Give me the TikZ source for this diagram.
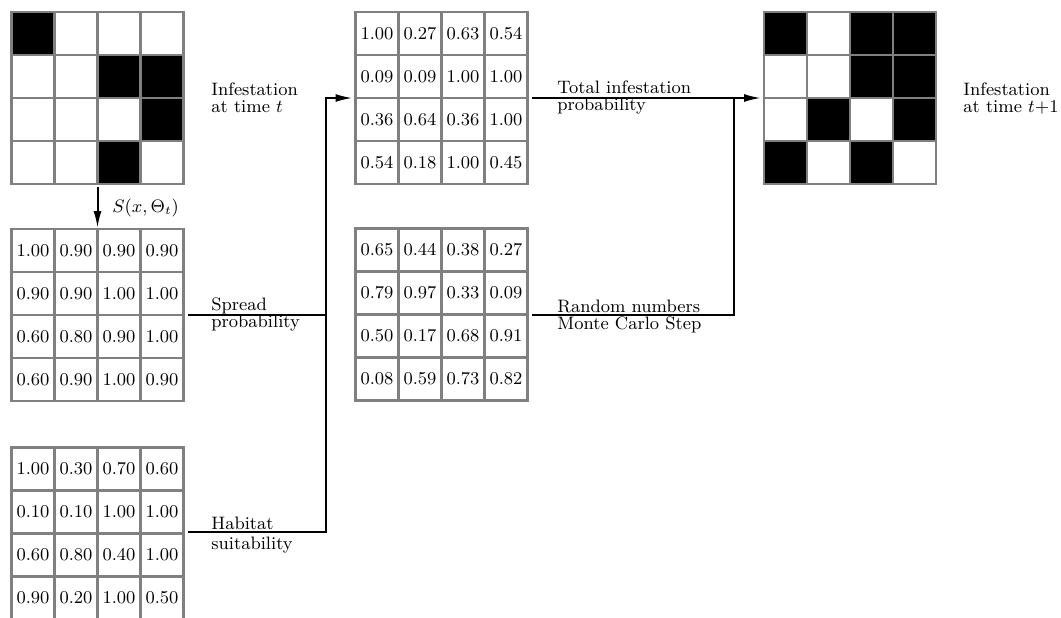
\documentclass[tikz,border=0pt]{standalone}
\usetikzlibrary{arrows.meta,calc}
\definecolor{gridgray}{RGB}{128,128,128}
\newcommand\cellgrid[1]{%
  \draw[cellline] (#1.north west) rectangle (#1.south east);
  \foreach \k in {1,2,3} {
    \draw[cellline] ($(#1.north west)+(\k*43,0)$) -- ($(#1.south west)+(\k*43,0)$);
    \draw[cellline] ($(#1.north west)+(0,\k*43)$) -- ($(#1.north east)+(0,\k*43)$);
  }}
\newcommand\cellvals[2]{%
  \foreach \row [count=\r] in {#2} {
    \foreach \v [count=\c] in \row {
      \node[num] (#1-\r-\c) at ($(#1.north west)+(\c*43-21.5,\r*43-21.5)$) {\v};
    }
  }}
\newcommand\blackcells[2]{%
  \foreach \r/\c in {#2} {
    \fill[black] ($(#1.north west)+(\c*43-43,\r*43-43)$) rectangle ++(43,43);
  }}
\begin{document}
\begin{tikzpicture}[x=0.5pt,y=-0.5pt,
  gridbox/.style={minimum size=86pt,inner sep=0pt,outer sep=0pt},
  cellline/.style={draw=gridgray,line width=1.2pt},
  num/.style={font=\small,inner sep=0pt},
  lbl/.style={font=\fontsize{9}{8.5}\selectfont,align=left,anchor=west,inner sep=0pt},
  conn/.style={line width=1pt,black},
  arr/.style={conn,-{Latex[length=8.5pt,width=4pt]}}]
\useasboundingbox (0,0) rectangle (1061,617);

% grid nodes
\node[gridbox] (g1) at (97.5,98) {};
\node[gridbox] (g2) at (97.5,315) {};
\node[gridbox] (g3) at (97.5,533.5) {};
\node[gridbox] (g4) at (441.5,98) {};
\node[gridbox] (g5) at (441.5,314.5) {};
\node[gridbox] (g6) at (850,98) {};

% black cells
\blackcells{g1}{1/1,2/3,2/4,3/4,4/3}
\blackcells{g6}{1/1,1/3,1/4,2/3,2/4,3/2,3/4,4/1,4/3}

% grid lines
\cellgrid{g1}
\cellgrid{g2}
\cellgrid{g3}
\cellgrid{g4}
\cellgrid{g5}
\cellgrid{g6}

% values
\cellvals{g2}{{1.00,0.90,0.90,0.90},{0.90,0.90,1.00,1.00},{0.60,0.80,0.90,1.00},{0.60,0.90,1.00,0.90}}
\cellvals{g3}{{1.00,0.30,0.70,0.60},{0.10,0.10,1.00,1.00},{0.60,0.80,0.40,1.00},{0.90,0.20,1.00,0.50}}
\cellvals{g4}{{1.00,0.27,0.63,0.54},{0.09,0.09,1.00,1.00},{0.36,0.64,0.36,1.00},{0.54,0.18,1.00,0.45}}
\cellvals{g5}{{0.65,0.44,0.38,0.27},{0.79,0.97,0.33,0.09},{0.50,0.17,0.68,0.91},{0.08,0.59,0.73,0.82}}

% labels
\node[lbl] (l1) at (211,98) {Infestation\\at time $t$};
\node[lbl] (l2) at (211,314) {Spread\\probability};
\node[lbl,font=\fontsize{9}{10}\selectfont] (l3) at (211,535) {Habitat\\suitability};
\node[lbl] (l4) at (557,97.5) {Total infestation\\probability};
\node[lbl] (l5) at (557,316) {Random numbers\\Monte Carlo Step};
\node[lbl] (l6) at (963,98) {Infestation\\at time $t{+}1$};
\node[lbl,font=\small] (ls) at (112,208) {$S(x,\Theta_t)$};

% junctions
\coordinate (jA) at (326,98);
\coordinate (jB) at (734,98);

% connectors
\draw[arr,shorten <=1.5pt,shorten >=0.5pt] (g1.south) -- (g2.north);
\draw[conn,shorten <=2pt] (g2.east) -- (g2.east -| jA);
\draw[arr,shorten >=1.5pt] ($(g3.east)+(4,-1.5)$) -| (jA) -- (g4.west);
\draw[arr,shorten <=2pt,shorten >=1.5pt] (g4.east) -- (g6.west);
\draw[conn,shorten <=2pt] (g5.east) -| (jB);
\end{tikzpicture}
\end{document}
